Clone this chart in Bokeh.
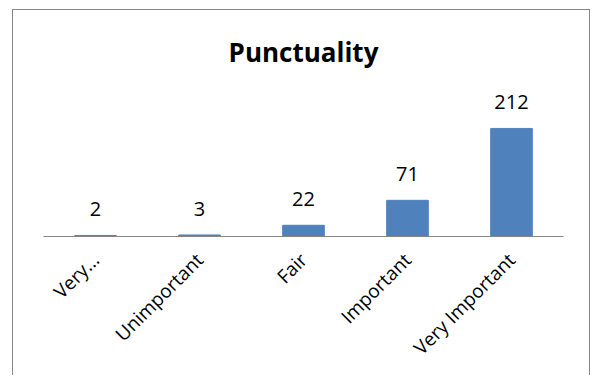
import math
from bokeh.plotting import figure
from bokeh.models import ColumnDataSource, LabelSet, Range1d, FactorRange
from bokeh.core.properties import value
from bokeh.embed import file_html
from bokeh.resources import INLINE

categories = ["Very...", "Unimportant", "Fair", "Important", "Very Important"]
counts = [2, 3, 22, 71, 212]
title_text = "Punctuality"

BAR_COLOR = "#4F81BD"
AXIS_COLOR = "#868686"
FONT = "Open Sans"

src = ColumnDataSource(data=dict(cat=categories, val=counts, lab=[str(v) for v in counts]))

p = figure(
    x_range=FactorRange(*categories, range_padding=0),
    y_range=Range1d(0, 310),
    width=578, height=366,
    output_backend="svg", toolbar_location=None,
    min_border_left=30, min_border_right=28, min_border_top=68, min_border_bottom=140,
)
p.styles = {
    "margin-left": "12px",
    "margin-top": "9px",
    "border-left": "1px solid #868686",
    "border-top": "1px solid #868686",
    "border-right": "1px solid #868686",
}
p.title.text = title_text
p.title.align = "center"
p.title.text_font = FONT
p.title.text_font_style = "bold"
p.title.text_font_size = "26px"
p.title.text_color = "#000000"
p.title.standoff = 17

p.vbar(x="cat", top="val", width=0.4, source=src, color=BAR_COLOR, line_color=BAR_COLOR)

labels = LabelSet(x="cat", y="val", text="lab", source=src, y_offset=19,
                  text_align="center", text_baseline="alphabetic",
                  text_font=value(FONT), text_font_size="20px", text_color="#000000")
p.add_layout(labels)

p.xgrid.visible = False
p.ygrid.visible = False
p.yaxis.visible = False
p.outline_line_color = None

ax = p.xaxis[0]
ax.axis_line_color = AXIS_COLOR
ax.axis_line_width = 1
ax.major_tick_line_color = None
ax.minor_tick_line_color = None
ax.major_label_orientation = math.pi / 4
ax.major_label_text_font = FONT
ax.major_label_text_font_size = "19px"
ax.major_label_text_color = "#000000"
ax.major_label_standoff = 14

open("out.html", "w").write(file_html(p, INLINE))
